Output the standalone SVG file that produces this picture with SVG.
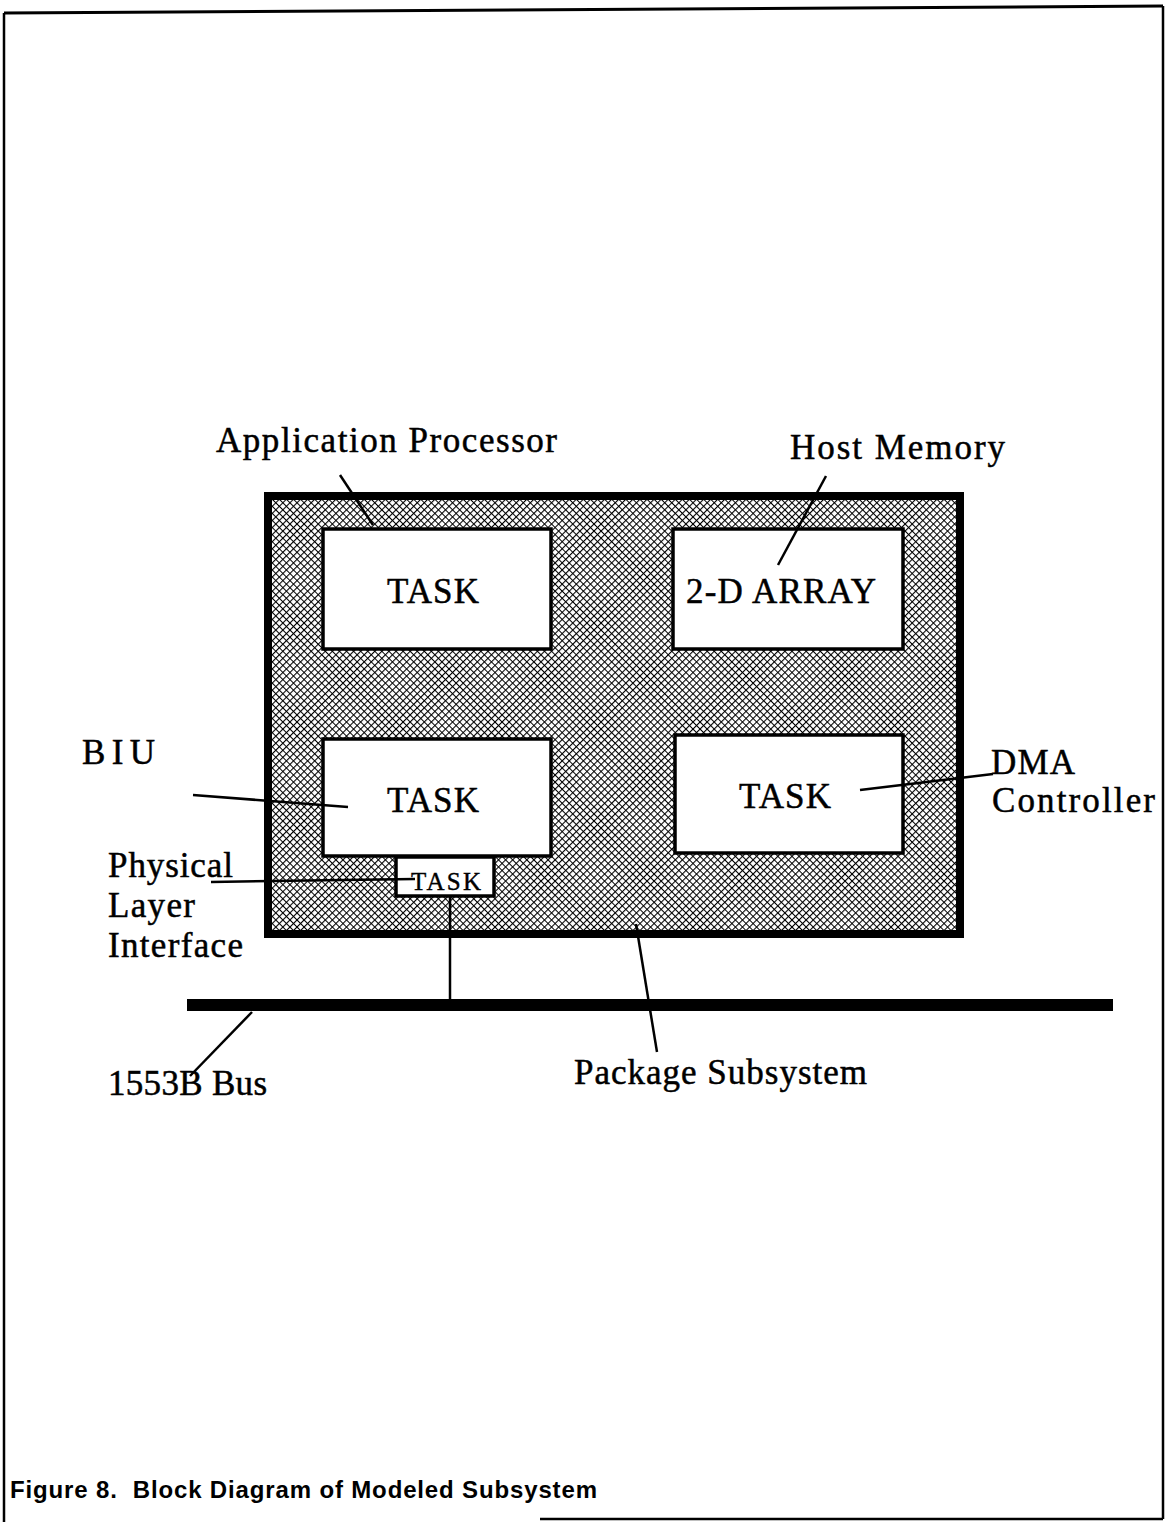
<svg xmlns="http://www.w3.org/2000/svg" width="1167" height="1522" viewBox="0 0 1167 1522">
<style>
.lbl{font-family:"Liberation Serif","DejaVu Serif",serif;font-size:35px;fill:#000;stroke:#000;stroke-width:0.5}
.sm{font-size:25px;stroke-width:0.4}
.cap{font-family:"Liberation Sans",Arial,sans-serif;font-weight:bold;font-size:24px;fill:#000}
.box{fill:#fff;stroke:#000;stroke-width:3.5}
.ld{stroke:#000;stroke-width:2.5;fill:none}
</style>
<defs>
<pattern id="hatch" width="5" height="5" patternUnits="userSpaceOnUse" patternTransform="rotate(45)">
<rect width="5" height="5" fill="#fff"/>
<path d="M0,0 H5 M0,0 V5" stroke="#000" stroke-width="2.2"/>
</pattern>
</defs>
<g id="page" fill="none" stroke="#000">
<path d="M4,13 L1163,6" stroke-width="3"/>
<path d="M4,13 L4,1522" stroke-width="2.5"/>
<path d="M1163,6 L1163,1519" stroke-width="2.5"/>
<path d="M540,1519 L1163,1519" stroke-width="2.5"/>
</g>
<g id="package-subsystem">
<rect x="268" y="496" width="692" height="438" fill="url(#hatch)" stroke="#000" stroke-width="8"/>
</g>
<g id="bus">
<rect x="187" y="999" width="926" height="12" fill="#000"/>
</g>
<g id="app-task">
<rect class="box" x="323" y="529" width="228" height="120"/>
<text class="lbl" x="433" y="603" text-anchor="middle" textLength="92">TASK</text>
</g>
<g id="host-array">
<rect class="box" x="673" y="529" width="230" height="120"/>
<text class="lbl" x="781" y="603" text-anchor="middle" textLength="190">2-D ARRAY</text>
</g>
<g id="biu-task">
<rect class="box" x="323" y="739" width="228" height="117"/>
<text class="lbl" x="433" y="812" text-anchor="middle" textLength="92">TASK</text>
</g>
<g id="dma-task">
<rect class="box" x="675" y="735" width="228" height="118"/>
<text class="lbl" x="785" y="808" text-anchor="middle" textLength="92">TASK</text>
</g>
<g id="phy-task">
<rect class="box" x="396" y="857" width="98" height="39"/>
<text class="lbl sm" x="446" y="890" text-anchor="middle" textLength="70">TASK</text>
</g>
<g id="connectors" class="ld">
<path class="ld" d="M340,475 L373,525"/>
<path class="ld" d="M826,476 L778,565"/>
<path class="ld" d="M193,795 L348,807"/>
<path class="ld" d="M860,790 L993,774"/>
<path class="ld" d="M211,882 L415,879"/>
<path class="ld" d="M450,897 L450,999" stroke-width="3"/>
<path class="ld" d="M252,1012 L190,1076"/>
<path class="ld" d="M636,924 L657,1052"/>
</g>
<g id="labels">
<text class="lbl" x="216" y="452" textLength="341">Application Processor</text>
<text class="lbl" x="790" y="459" textLength="215">Host Memory</text>
<text class="lbl" x="82" y="764" textLength="73">BIU</text>
<text class="lbl" x="991" y="774" textLength="84">DMA</text>
<text class="lbl" x="992" y="812" textLength="163">Controller</text>
<text class="lbl" x="108" y="877" textLength="125">Physical</text>
<text class="lbl" x="108" y="917" textLength="87">Layer</text>
<text class="lbl" x="108" y="957" textLength="135">Interface</text>
<text class="lbl" x="108" y="1095" textLength="159">1553B Bus</text>
<text class="lbl" x="574" y="1084" textLength="293">Package Subsystem</text>
</g>
<text class="cap" x="10" y="1498" textLength="587" xml:space="preserve">Figure 8.  Block Diagram of Modeled Subsystem</text>
</svg>
